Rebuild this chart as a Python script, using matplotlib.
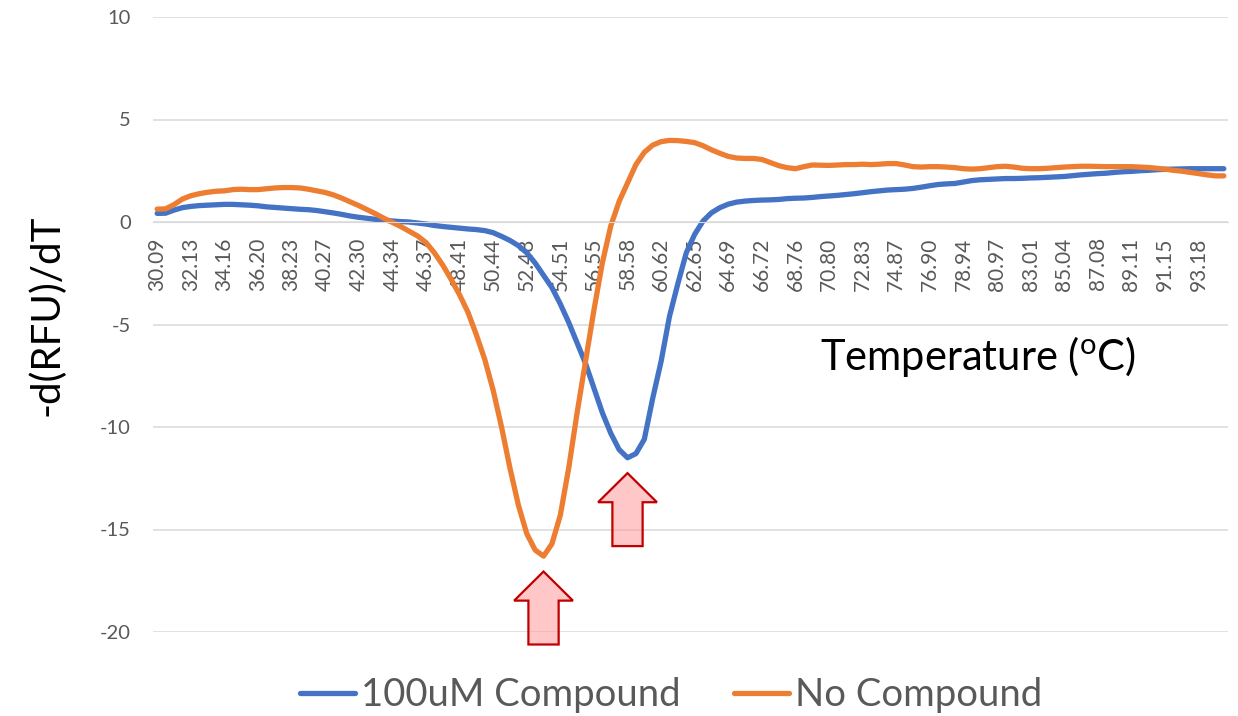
import numpy as np
import matplotlib
matplotlib.use('Agg')
import matplotlib.pyplot as plt
from matplotlib.patches import Polygon

# category labels shown on the axis (every 4th reading)
temp_labels = ['30.09', '32.13', '34.16', '36.20', '38.23', '40.27', '42.30', '44.34',
               '46.37', '48.41', '50.44', '52.48', '54.51', '56.55', '58.58', '60.62',
               '62.65', '64.69', '66.72', '68.76', '70.80', '72.83', '74.87', '76.90',
               '78.94', '80.97', '83.01', '85.04', '87.08', '89.11', '91.15', '93.18']

# -d(RFU)/dT, one value per temperature step (128 readings)
compound_100um = [
  0.42, 0.43, 0.58, 0.70, 0.76, 0.80, 0.82, 0.84, 0.86, 0.86,
  0.84, 0.82, 0.79, 0.74, 0.71, 0.68, 0.65, 0.62, 0.60, 0.56,
  0.50, 0.44, 0.37, 0.29, 0.23, 0.18, 0.13, 0.09, 0.05, 0.02,
  0.00, -0.05, -0.10, -0.17, -0.22, -0.26, -0.30, -0.34, -0.37, -0.42,
  -0.52, -0.70, -0.90, -1.15, -1.50, -2.00, -2.60, -3.20, -4.00, -4.90,
  -5.90, -6.90, -8.10, -9.30, -10.30, -11.10, -11.50, -11.30, -10.60, -8.60,
  -6.80, -4.60, -3.00, -1.50, -0.60, 0.05, 0.45, 0.70, 0.87, 0.97,
  1.02, 1.05, 1.07, 1.08, 1.10, 1.14, 1.16, 1.17, 1.20, 1.24,
  1.27, 1.30, 1.34, 1.38, 1.43, 1.48, 1.52, 1.56, 1.58, 1.60,
  1.64, 1.70, 1.77, 1.83, 1.86, 1.88, 1.95, 2.02, 2.06, 2.08,
  2.10, 2.12, 2.12, 2.13, 2.15, 2.16, 2.18, 2.20, 2.22, 2.26,
  2.30, 2.33, 2.36, 2.38, 2.42, 2.45, 2.47, 2.50, 2.52, 2.55,
  2.57, 2.58, 2.59, 2.60, 2.60, 2.60, 2.60, 2.60]

no_compound = [
  0.63, 0.64, 0.85, 1.12, 1.28, 1.38, 1.45, 1.50, 1.52, 1.58,
  1.60, 1.58, 1.58, 1.62, 1.66, 1.68, 1.68, 1.66, 1.60, 1.52,
  1.44, 1.32, 1.16, 0.98, 0.80, 0.60, 0.40, 0.18, -0.02, -0.22,
  -0.45, -0.68, -1.00, -1.50, -2.10, -2.80, -3.55, -4.40, -5.50, -6.70,
  -8.20, -10.00, -12.00, -13.80, -15.20, -16.00, -16.30, -15.70, -14.30, -12.00,
  -9.30, -6.80, -4.30, -2.00, -0.20, 1.00, 1.90, 2.80, 3.40, 3.75,
  3.92, 3.98, 3.97, 3.93, 3.87, 3.72, 3.52, 3.35, 3.20, 3.12,
  3.10, 3.10, 3.05, 2.90, 2.75, 2.65, 2.60, 2.70, 2.78, 2.77,
  2.76, 2.78, 2.80, 2.80, 2.82, 2.80, 2.82, 2.85, 2.85, 2.78,
  2.70, 2.68, 2.70, 2.70, 2.68, 2.65, 2.60, 2.58, 2.60, 2.65,
  2.70, 2.72, 2.68, 2.62, 2.60, 2.60, 2.62, 2.65, 2.68, 2.70,
  2.72, 2.72, 2.71, 2.70, 2.70, 2.70, 2.70, 2.68, 2.66, 2.62,
  2.58, 2.52, 2.48, 2.42, 2.36, 2.30, 2.25, 2.25]

plt.rcParams['font.family'] = ['Lato', 'DejaVu Sans']
plt.rcParams['mathtext.fontset'] = 'custom'
plt.rcParams['mathtext.rm'] = 'Lato'
plt.rcParams['axes.unicode_minus'] = False


def up_arrow(ax, xc, tip):
  # block arrow pointing up at a melting peak
  head_w, shaft_w, head_len, total = 3.5, 1.8, 1.42, 3.56
  pts = [(xc, tip), (xc + head_w, tip - head_len), (xc + shaft_w, tip - head_len),
         (xc + shaft_w, tip - total), (xc - shaft_w, tip - total),
         (xc - shaft_w, tip - head_len), (xc - head_w, tip - head_len)]
  ax.add_patch(Polygon(pts, closed=True, facecolor=(1, 0.6, 0.6, 0.55),
                       edgecolor='#C00000', lw=1.6, clip_on=False, zorder=4))


x = np.arange(len(no_compound))

fig = plt.figure(figsize=(12.38, 7.16), dpi=100)
ax = fig.add_axes([153 / 1238, 1 - 632 / 716, 1075 / 1238, 615 / 716])

# spine position first: moving it resets the tick objects
for s in ['top', 'right', 'left']:
  ax.spines[s].set_visible(False)
ax.spines['bottom'].set_position(('data', 0))
ax.spines['bottom'].set_color('#D9D9D9')

ax.plot(x, compound_100um, color='#4472C4', lw=3.8, label='100uM Compound', solid_capstyle='round')
ax.plot(x, no_compound, color='#ED7D31', lw=3.8, label='No Compound', solid_capstyle='round')

ax.set_xlim(-0.5, len(x) - 0.5)
ax.set_ylim(-20, 10)
ax.set_yticks(np.arange(-20, 11, 5))
ax.set_xticks(x[::4])
ax.set_xticklabels(temp_labels)

ax.grid(axis='y', color='#D9D9D9', lw=1.1)
ax.set_axisbelow(True)
ax.tick_params(axis='both', length=0, colors='#595959', labelsize=14.5)
ax.tick_params(axis='x', pad=11, labelrotation=90, labelsize=15)
ax.tick_params(axis='y', pad=16)

# arrows under each minimum
up_arrow(ax, int(np.argmin(no_compound)), min(no_compound) - 0.75)
up_arrow(ax, int(np.argmin(compound_100um)), min(compound_100um) - 0.75)

fig.text(47 / 1238, 1 - 315 / 716, '-d(RFU)/dT', rotation=90, ha='center', va='center',
         fontsize=29, color='black')
fig.text(820 / 1238, 1 - 370 / 716, r'Temperature ($\mathrm{^{o}}$C)', ha='left', va='baseline',
         fontsize=30, color='black')

fig.legend(loc='center', bbox_to_anchor=(671 / 1238, 1 - 695 / 716), ncol=2, frameon=False,
           fontsize=27.5, labelcolor='#595959', handlelength=1.45, handletextpad=0.15,
           columnspacing=1.4)

fig.savefig('out.png', dpi=100)
